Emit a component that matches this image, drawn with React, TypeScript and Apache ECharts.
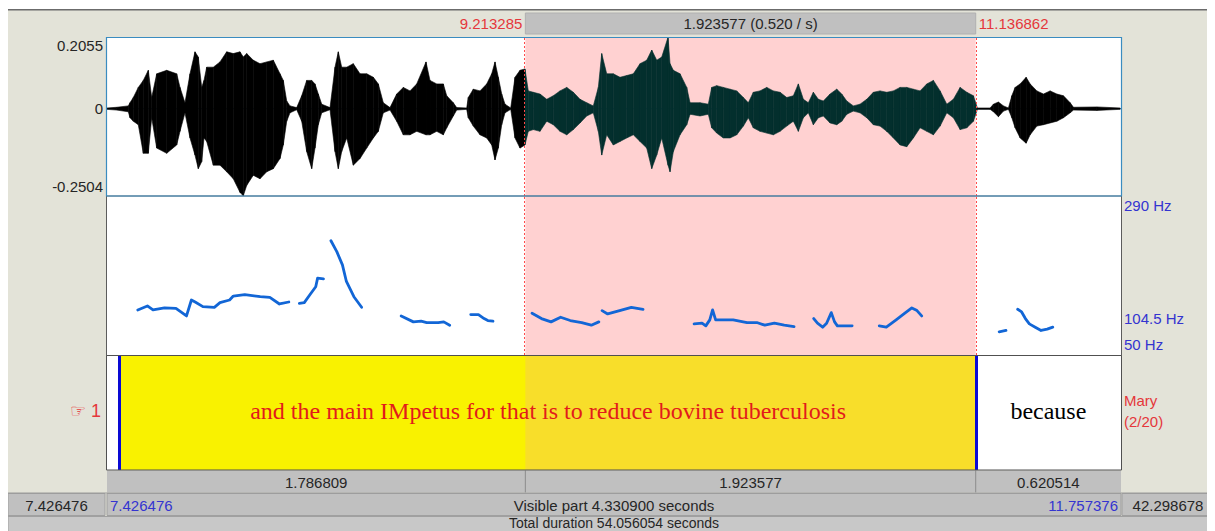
import React, { useEffect, useRef } from "react";
import * as echarts from "echarts";

// ---------- values ----------
const VIS_START = 7.426476;
const VIS_END = 11.757376;
const TOTAL_DURATION = 54.056054;
const SEL_START = 9.213285;
const SEL_END = 11.136862;

const AMP_MAX = 0.2055;
const AMP_MIN = -0.2504;
const AMP_LABELS = ["0.2055", "0", "-0.2504"];
const PITCH_MIN = 50;
const PITCH_MAX = 290;
const PITCH_MID = 104.5;
const PITCH_LABELS = ["290 Hz", "104.5 Hz", "50 Hz"];

// waveform envelope (seconds, max amplitude, min amplitude)
const WAVE_T = [
  7.4265, 7.468, 7.5175, 7.5247, 7.5388, 7.5602, 7.5815, 7.6029, 7.6174, 7.6388,
  7.6815, 7.7242, 7.7383, 7.7596, 7.781, 7.8023, 7.8164, 7.8309, 7.8408, 7.8523,
  7.8805, 7.9091, 7.9377, 7.9659, 7.9945, 8.0086, 8.0231, 8.0513, 8.0799, 8.1086,
  8.1368, 8.1654, 8.1795, 8.194, 8.2081, 8.2367, 8.2581, 8.2794, 8.3008, 8.3149,
  8.329, 8.3435, 8.379, 8.4003, 8.4144, 8.4289, 8.4503, 8.4785, 8.5071, 8.5357,
  8.564, 8.5853, 8.6066, 8.6352, 8.6638, 8.692, 8.7206, 8.7493, 8.789, 8.8061,
  8.8347, 8.8629, 8.8774, 8.9056, 8.92, 8.9628, 8.9696, 8.991, 9.0196, 9.0482,
  9.0696, 9.0837, 9.0978, 9.1123, 9.1264, 9.1508, 9.1691, 9.1905, 9.2118, 9.2259,
  9.2473, 9.2759, 9.3045, 9.3327, 9.3613, 9.39, 9.4182, 9.4468, 9.4754, 9.5036,
  9.525, 9.5395, 9.5608, 9.589, 9.6176, 9.6463, 9.6745, 9.7031, 9.7317, 9.7531,
  9.7744, 9.7958, 9.8227, 9.8313, 9.8454, 9.874, 9.9026, 9.9167, 9.9594, 9.9948,
  10.0093, 10.0307, 10.0589, 10.0875, 10.1161, 10.1444, 10.1657, 10.187, 10.2156, 10.2443,
  10.2725, 10.3011, 10.3297, 10.358, 10.3793, 10.4007, 10.422, 10.4434, 10.4647, 10.4861,
  10.5147, 10.5433, 10.5647, 10.586, 10.6142, 10.6428, 10.6715, 10.6997, 10.7283, 10.7569,
  10.7852, 10.8138, 10.8424, 10.8706, 10.8992, 10.9279, 10.9561, 10.9847, 11.0133, 11.0415,
  11.0702, 11.0988, 11.127, 11.1441, 11.1984, 11.2125, 11.2339, 11.2553, 11.2766, 11.2911,
  11.3052, 11.3266, 11.3522, 11.3693, 11.3979, 11.4261, 11.4547, 11.4834, 11.5116, 11.5402,
  11.5543, 11.6543, 11.7537,
];
const WAVE_MAX = [
  0.002, 0.004, 0.008, 0.017, 0.032, 0.061, 0.081, 0.11, 0.032, 0.1,
  0.11, 0.1, 0.061, 0.017, 0.1, 0.163, 0.148, 0.061, 0.081, 0.119,
  0.119, 0.134, 0.163, 0.158, 0.163, 0.148, 0.158, 0.139, 0.129, 0.134,
  0.139, 0.1, 0.081, 0.022, 0.008, 0.003, 0.037, 0.081, 0.081, 0.071,
  0.042, 0.013, 0.003, 0.119, 0.163, 0.119, 0.119, 0.129, 0.1, 0.1,
  0.09, 0.071, 0.017, 0.003, 0.042, 0.061, 0.051, 0.071, 0.134, 0.081,
  0.071, 0.071, 0.037, 0.017, 0.003, 0.002, 0.032, 0.056, 0.051, 0.071,
  0.1, 0.134, 0.09, 0.042, 0.013, 0.002, 0.09, 0.11, 0.114, 0.051,
  0.047, 0.042, 0.027, 0.037, 0.051, 0.061, 0.047, 0.027, 0.017, 0.008,
  0.061, 0.158, 0.1, 0.1, 0.09, 0.095, 0.1, 0.129, 0.139, 0.168,
  0.139, 0.148, 0.205, 0.129, 0.11, 0.1, 0.061, 0.017, 0.017, 0.013,
  0.061, 0.066, 0.061, 0.056, 0.051, 0.032, 0.017, 0.047, 0.051, 0.061,
  0.051, 0.047, 0.032, 0.037, 0.071, 0.027, 0.017, 0.047, 0.027, 0.022,
  0.042, 0.056, 0.042, 0.022, 0.008, 0.013, 0.027, 0.047, 0.051, 0.047,
  0.051, 0.061, 0.061, 0.056, 0.051, 0.071, 0.081, 0.051, 0.013, 0.027,
  0.061, 0.047, 0.037, 0.002, 0.002, 0.013, 0.019, 0.008, 0.002, 0.037,
  0.061, 0.071, 0.09, 0.071, 0.051, 0.042, 0.051, 0.042, 0.037, 0.017,
  0.004, 0.005, 0.002,
];
const WAVE_MIN = [
  -0.002, -0.004, -0.009, -0.026, -0.036, -0.046, -0.128, -0.128, -0.026, -0.113,
  -0.128, -0.104, -0.065, -0.012, -0.084, -0.133, -0.172, -0.152, -0.084, -0.094,
  -0.162, -0.162, -0.181, -0.201, -0.24, -0.25, -0.22, -0.191, -0.201, -0.181,
  -0.172, -0.143, -0.104, -0.036, -0.012, -0.003, -0.036, -0.123, -0.172, -0.113,
  -0.046, -0.012, -0.003, -0.123, -0.172, -0.123, -0.084, -0.162, -0.143, -0.113,
  -0.084, -0.065, -0.012, -0.004, -0.036, -0.075, -0.075, -0.065, -0.075, -0.075,
  -0.065, -0.075, -0.055, -0.021, -0.004, -0.002, -0.026, -0.05, -0.075, -0.084,
  -0.104, -0.147, -0.113, -0.046, -0.012, -0.002, -0.084, -0.113, -0.104, -0.065,
  -0.06, -0.065, -0.036, -0.046, -0.065, -0.075, -0.06, -0.041, -0.021, -0.012,
  -0.065, -0.133, -0.075, -0.104, -0.094, -0.084, -0.075, -0.094, -0.113, -0.172,
  -0.133, -0.084, -0.162, -0.181, -0.123, -0.075, -0.046, -0.016, -0.021, -0.016,
  -0.055, -0.07, -0.084, -0.084, -0.075, -0.05, -0.026, -0.055, -0.065, -0.07,
  -0.075, -0.065, -0.05, -0.036, -0.065, -0.026, -0.012, -0.046, -0.026, -0.021,
  -0.041, -0.046, -0.036, -0.016, -0.007, -0.012, -0.026, -0.046, -0.05, -0.065,
  -0.084, -0.104, -0.109, -0.084, -0.055, -0.065, -0.075, -0.05, -0.012, -0.026,
  -0.06, -0.055, -0.036, -0.002, -0.002, -0.009, -0.023, -0.007, -0.002, -0.026,
  -0.055, -0.084, -0.099, -0.075, -0.05, -0.046, -0.041, -0.036, -0.026, -0.012,
  -0.004, -0.005, -0.002,
];

// pitch contour, one list per voiced stretch
const PITCH_T = [
  [7.558, 7.599, 7.623, 7.672, 7.721, 7.766, 7.787, 7.803, 7.836, 7.885, 7.909, 7.95, 7.966, 8.015, 8.081, 8.122, 8.163, 8.203],
  [8.248, 8.269, 8.293, 8.318, 8.326, 8.351],
  [8.383, 8.408, 8.432, 8.449, 8.481, 8.514],
  [8.683, 8.735, 8.768, 8.792, 8.841, 8.865, 8.89],
  [8.98, 9.013, 9.037, 9.053, 9.075],
  [9.242, 9.282, 9.323, 9.364, 9.405, 9.454, 9.495, 9.527],
  [9.541, 9.565, 9.616, 9.666, 9.716],
  [9.934, 9.968, 9.984, 10.001, 10.013, 10.026, 10.051, 10.101, 10.16, 10.202, 10.236, 10.277, 10.319, 10.361],
  [10.445, 10.461, 10.483, 10.5, 10.52, 10.534, 10.546, 10.571, 10.609],
  [10.725, 10.755, 10.797, 10.83, 10.864, 10.886, 10.906],
  [11.237, 11.266],
  [11.316, 11.333, 11.349, 11.366, 11.391, 11.416, 11.442, 11.466],
];
const PITCH_HZ = [
  [118, 124, 118, 121, 120.5, 109, 133, 130, 123, 122, 129, 133, 139, 141, 138, 137, 127, 130],
  [128, 129, 141, 153, 166, 165],
  [222.5, 206, 186, 161, 138, 122],
  [109, 100, 101, 99, 99, 100, 95],
  [111, 111, 105, 102, 101],
  [113, 105, 100, 107, 102, 99, 95, 100],
  [117, 112, 117, 122, 119],
  [97, 98, 94, 103, 118, 103, 103, 103, 99, 99, 95, 98, 95, 93],
  [105, 98, 92, 98, 114, 100, 94, 94, 94],
  [94, 92, 103, 112, 121, 117, 109],
  [85, 87],
  [119, 115, 105, 97, 92, 87, 89, 92],
];

// text tier
const TIER_NUMBER = "1";
const TIER_NAME = "Mary";
const TIER_INFO = "(2/20)";
const INTERVAL_STARTS = [VIS_START, 7.484, 11.136862];
const INTERVAL_ENDS = [7.484, 11.136862, VIS_END];
const INTERVAL_TEXTS = ["", "and the main IMpetus for that is to reduce bovine tuberculosis", "because"];
const SELECTED_INTERVAL = 1;
const TIER_BOUNDARIES = [7.484, 11.136862];

// ---------- layout ----------
const W = 1207;
const H = 523;
const GL = 99;
const GW = 1014;
const WAVE_TOP = 29;
const WAVE_H = 159;
const PITCH_TOP = 188;
const PITCH_H = 159;
const TIER_TOP = 347;
const TIER_H = 115;

const SANS = '"Liberation Sans", Arial, sans-serif';
const SERIF = '"Liberation Serif", "Times New Roman", serif';
const DARK = "#262626";
const RED = "#e5373b";
const BLUE = "#3434d0";
const BAR = "#c0c0c0";

function txt(x: number, y: number, text: string, o: any = {}) {
  const align = o.align || "center";
  const va = o.va || "middle";
  return {
    type: "text",
    x,
    y,
    z: 120,
    silent: true,
    style: {
      text,
      fill: o.color || DARK,
      font: `${o.size || 15}px ${o.family || SANS}`,
      align,
      verticalAlign: va,
      textAlign: align,
      textVerticalAlign: va,
    },
  };
}

function buildOption() {
  const waveSegments: number[][] = [];
  for (let i = 0; i < WAVE_T.length - 1; i++) {
    waveSegments.push([WAVE_T[i], WAVE_T[i + 1], WAVE_MAX[i], WAVE_MAX[i + 1], WAVE_MIN[i], WAVE_MIN[i + 1]]);
  }
  const pitchData: any[] = [];
  PITCH_T.forEach((seg, si) => {
    seg.forEach((t, j) => pitchData.push([t, PITCH_HZ[si][j]]));
    pitchData.push([seg[seg.length - 1], null]);
  });
  const tierData = INTERVAL_STARTS.map((s, i) => [s, INTERVAL_ENDS[i], i]);

  const selArea = {
    silent: true,
    itemStyle: { color: "#ffd1d1" },
    data: [[{ xAxis: SEL_START }, { xAxis: SEL_END }]],
  };
  const selLines = {
    silent: true,
    symbol: ["none", "none"],
    label: { show: false },
    lineStyle: { color: "#ff4a4a", type: [2, 2], width: 1 },
    data: [{ xAxis: SEL_START }, { xAxis: SEL_END }],
  };

  return {
    animation: false,
    backgroundColor: "#e3e3d8",
    grid: [
      { left: GL, top: WAVE_TOP, width: GW, height: WAVE_H, show: true, backgroundColor: "#fff", borderWidth: 0 },
      { left: GL, top: PITCH_TOP, width: GW, height: PITCH_H, show: true, backgroundColor: "#fff", borderWidth: 0 },
      { left: GL, top: TIER_TOP, width: GW, height: TIER_H, show: true, backgroundColor: "#fff", borderWidth: 0 },
    ],
    xAxis: [0, 1, 2].map((i) => ({ type: "value", gridIndex: i, min: VIS_START, max: VIS_END, show: false })),
    yAxis: [
      { type: "value", gridIndex: 0, min: AMP_MIN, max: AMP_MAX, show: false },
      { type: "value", gridIndex: 1, min: PITCH_MIN, max: PITCH_MAX, show: false },
      { type: "value", gridIndex: 2, min: 0, max: 1, show: false },
    ],
    series: [
      {
        type: "line", xAxisIndex: 0, yAxisIndex: 0, z: 1, silent: true, symbol: "none",
        data: [[VIS_START, 0], [VIS_END, 0]], lineStyle: { color: "#4a94c4", width: 1 }, markArea: selArea,
      },
      {
        type: "custom", xAxisIndex: 0, yAxisIndex: 0, z: 2, silent: true, clip: true,
        data: waveSegments,
        encode: { x: [0, 1], y: [2, 3, 4, 5] },
        renderItem: (params: any, api: any) => {
          const t0 = api.value(0);
          const t1 = api.value(1);
          const a = api.coord([t0, api.value(2)]);
          const b = api.coord([t1, api.value(3)]);
          const c = api.coord([t1, api.value(5)]);
          const d = api.coord([t0, api.value(4)]);
          const mid = (t0 + t1) / 2;
          const col = mid >= SEL_START && mid <= SEL_END ? "#032f2d" : "#000000";
          return { type: "polygon", shape: { points: [a, b, c, d] }, style: { fill: col, stroke: col, lineWidth: 0.6 } };
        },
      },
      {
        type: "line", xAxisIndex: 0, yAxisIndex: 0, z: 5, silent: true, symbol: "none",
        data: [[VIS_START, 0], [VIS_END, 0]], lineStyle: { opacity: 0 }, markLine: selLines,
      },
      {
        type: "line", xAxisIndex: 1, yAxisIndex: 1, z: 1, silent: true, symbol: "none",
        data: [[VIS_START, PITCH_MIN], [VIS_END, PITCH_MIN]], lineStyle: { opacity: 0 }, markArea: selArea,
      },
      {
        type: "line", xAxisIndex: 1, yAxisIndex: 1, z: 3, silent: true, symbol: "none",
        data: pitchData, connectNulls: false,
        lineStyle: { color: "#1266d6", width: 2.8, cap: "round", join: "round" },
        markLine: selLines,
      },
      {
        type: "custom", xAxisIndex: 2, yAxisIndex: 2, z: 2, silent: true, clip: true,
        data: tierData,
        encode: { x: [0, 1] },
        renderItem: (params: any, api: any) => {
          const s = Math.max(api.value(0), VIS_START);
          const e = Math.min(api.value(1), VIS_END);
          const idx = api.value(2);
          const yTop = api.coord([s, 1])[1];
          const yBot = api.coord([s, 0])[1];
          const x0 = api.coord([s, 0])[0];
          const x1 = api.coord([e, 0])[0];
          const children: any[] = [];
          const selected = idx === SELECTED_INTERVAL;
          if (selected) {
            children.push({ type: "rect", shape: { x: x0, y: yTop, width: x1 - x0, height: yBot - yTop }, style: { fill: "#f9f200" } });
          }
          const os = Math.max(s, SEL_START);
          const oe = Math.min(e, SEL_END);
          if (oe > os) {
            const ox0 = api.coord([os, 0])[0];
            const ox1 = api.coord([oe, 0])[0];
            children.push({
              type: "rect",
              shape: { x: ox0, y: yTop, width: ox1 - ox0, height: yBot - yTop },
              style: { fill: selected ? "#f8de2a" : "#ffd1d1" },
            });
          }
          const label = INTERVAL_TEXTS[idx];
          if (label) {
            children.push({
              type: "text",
              style: {
                text: label,
                x: (x0 + x1) / 2,
                y: (yTop + yBot) / 2 - 1.5,
                fill: selected ? "#e21b1b" : "#000000",
                font: `24px ${SERIF}`,
                align: "center",
                verticalAlign: "middle",
                textAlign: "center",
                textVerticalAlign: "middle",
              },
            });
          }
          return { type: "group", children };
        },
      },
      {
        type: "line", xAxisIndex: 2, yAxisIndex: 2, z: 6, silent: true, symbol: "none",
        data: [[VIS_START, 0], [VIS_END, 0]], lineStyle: { opacity: 0 },
        markLine: {
          silent: true,
          symbol: ["none", "none"],
          label: { show: false },
          lineStyle: { color: "#0a0ad4", type: "solid", width: 3 },
          data: TIER_BOUNDARIES.map((b) => ({ xAxis: b })),
        },
      },
    ],
  };
}

function buildGraphics(chart: any) {
  const P = (gi: number, x: number, y: number) => chart.convertToPixel({ gridIndex: gi }, [x, y]) as number[];
  const gl = P(0, VIS_START, 0)[0];
  const gr = P(0, VIS_END, 0)[0];
  const xs = P(0, SEL_START, 0)[0];
  const xe = P(0, SEL_END, 0)[0];
  const wTop = P(0, VIS_START, AMP_MAX)[1];
  const wZero = P(0, VIS_START, 0)[1];
  const wBot = P(0, VIS_START, AMP_MIN)[1];
  const pTop = P(1, VIS_START, PITCH_MAX)[1];
  const pMid = P(1, VIS_START, PITCH_MID)[1];
  const pBot = P(1, VIS_START, PITCH_MIN)[1];
  const tTop = P(2, VIS_START, 1)[1];
  const tBot = P(2, VIS_START, 0)[1];
  const tMid = (tTop + tBot) / 2;

  const selDur = SEL_END - SEL_START;
  const visDur = VIS_END - VIS_START;
  const els: any[] = [];

  // top edge
  els.push({ type: "rect", z: 110, silent: true, shape: { x: 0, y: 0, width: W, height: 1 }, style: { fill: "#ffffff" } });
  els.push({ type: "rect", z: 110, silent: true, shape: { x: 0, y: 1, width: W, height: 1.5 }, style: { fill: "#6b6b6b" } });

  // selection bar on top
  els.push({ type: "rect", z: 110, silent: true, shape: { x: xs, y: 5, width: xe - xs, height: 21 }, style: { fill: BAR, stroke: "#b0b0b0", lineWidth: 1 } });
  els.push(txt(xs - 3, 15.5, SEL_START.toFixed(6), { align: "right", color: RED }));
  els.push(txt((xs + xe) / 2, 15.5, `${selDur.toFixed(6)} (${(1 / selDur).toFixed(3)} / s)`));
  els.push(txt(xe + 3, 15.5, SEL_END.toFixed(6), { align: "left", color: RED }));

  // amplitude labels
  els.push(txt(gl - 4, wTop + 1, AMP_LABELS[0], { align: "right", va: "top" }));
  els.push(txt(gl - 4, wZero, AMP_LABELS[1], { align: "right" }));
  els.push(txt(gl - 4, wBot - 2, AMP_LABELS[2], { align: "right", va: "bottom" }));

  // pitch labels
  els.push(txt(gr + 3, pTop + 2, PITCH_LABELS[0], { align: "left", va: "top", color: BLUE }));
  els.push(txt(gr + 3, pMid, PITCH_LABELS[1], { align: "left", color: BLUE }));
  els.push(txt(gr + 3, pBot - 3, PITCH_LABELS[2], { align: "left", va: "bottom", color: BLUE }));

  // tier labels
  els.push(txt(gr + 3, tMid - 12, TIER_NAME, { align: "left", color: RED }));
  els.push(txt(gr + 3, tMid + 9, TIER_INFO, { align: "left", color: RED }));
  els.push(txt(gl - 6, tMid - 2, `\u261E ${TIER_NUMBER}`, { align: "right", color: RED, size: 18 }));

  // frames
  els.push({ type: "rect", z: 115, silent: true, shape: { x: gl - 0.5, y: pTop, width: gr - gl + 1, height: pBot - pTop + 0.5 }, style: { fill: "none", stroke: "#5c5c5c", lineWidth: 1 } });
  els.push({ type: "rect", z: 115, silent: true, shape: { x: gl - 0.5, y: tTop + 0.5, width: gr - gl + 1, height: tBot - tTop - 0.5 }, style: { fill: "none", stroke: "#505050", lineWidth: 1 } });
  els.push({ type: "rect", z: 116, silent: true, shape: { x: gl - 0.5, y: wTop + 0.5, width: gr - gl + 1, height: wBot - wTop - 0.5 }, style: { fill: "none", stroke: "#3a8cc0", lineWidth: 1.2 } });

  // duration row under the tier
  const r1 = tBot + 0.5;
  const r1h = 22;
  els.push({ type: "rect", z: 110, silent: true, shape: { x: gl, y: r1, width: gr - gl, height: r1h }, style: { fill: BAR } });
  [xs, xe].forEach((x) => {
    els.push({ type: "line", z: 111, silent: true, shape: { x1: x, y1: r1, x2: x, y2: r1 + r1h }, style: { stroke: "#8c8c8c", lineWidth: 1 } });
  });
  els.push(txt((gl + xs) / 2, r1 + 11.5, (SEL_START - VIS_START).toFixed(6)));
  els.push(txt((xs + xe) / 2, r1 + 11.5, selDur.toFixed(6)));
  els.push(txt((xe + gr) / 2, r1 + 11.5, (VIS_END - SEL_END).toFixed(6)));

  // visible-part row
  const r2 = r1 + r1h + 1;
  const r2h = 22;
  els.push({ type: "line", z: 111, silent: true, shape: { x1: 0, y1: r2 - 0.5, x2: W, y2: r2 - 0.5 }, style: { stroke: "#9a9a9a", lineWidth: 1 } });
  els.push({ type: "rect", z: 110, silent: true, shape: { x: 0, y: r2, width: gl - 2, height: r2h }, style: { fill: BAR, stroke: "#a0a0a0", lineWidth: 1 } });
  els.push({ type: "rect", z: 110, silent: true, shape: { x: gl, y: r2, width: gr - gl, height: r2h }, style: { fill: BAR, stroke: "#a0a0a0", lineWidth: 1 } });
  els.push({ type: "rect", z: 110, silent: true, shape: { x: gr + 1, y: r2, width: W - gr - 1, height: r2h }, style: { fill: BAR, stroke: "#a0a0a0", lineWidth: 1 } });
  els.push(txt((gl - 2) / 2, r2 + 11.5, VIS_START.toFixed(6)));
  els.push(txt(gl + 3, r2 + 11.5, VIS_START.toFixed(6), { align: "left", color: BLUE }));
  els.push(txt((gl + gr) / 2, r2 + 11.5, `Visible part ${visDur.toFixed(6)} seconds`));
  els.push(txt(gr - 3, r2 + 11.5, VIS_END.toFixed(6), { align: "right", color: BLUE }));
  els.push(txt((gr + W) / 2, r2 + 11.5, (TOTAL_DURATION - VIS_END).toFixed(6)));

  // total-duration row
  const r3 = r2 + r2h + 1;
  els.push({ type: "rect", z: 110, silent: true, shape: { x: 0, y: r3, width: W, height: H - r3 + 5 }, style: { fill: "#c8c8c8", stroke: "#a0a0a0", lineWidth: 1 } });
  els.push(txt((gl + gr) / 2, H - 1, `Total duration ${TOTAL_DURATION.toFixed(6)} seconds`, { va: "bottom", size: 14 }));

  return els;
}

export default function App() {
  const ref = useRef<HTMLDivElement>(null);
  useEffect(() => {
    if (!ref.current) return;
    const chart = echarts.init(ref.current, null, { renderer: "svg" });
    chart.setOption(buildOption() as any);
    chart.setOption({ graphic: { elements: buildGraphics(chart) } } as any);
    return () => chart.dispose();
  }, []);
  return <div ref={ref} style={{ width: W, height: H }} />;
}
